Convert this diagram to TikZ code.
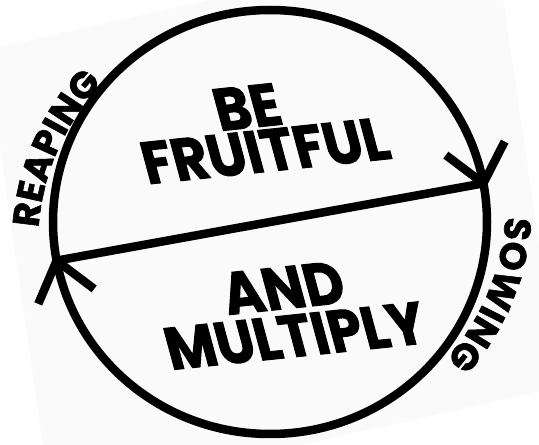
\documentclass[tikz,border=0pt]{standalone}
\usepackage{fontspec}
\setmainfont{Poppins}[BoldFeatures={FakeBold=1.6}]
\usetikzlibrary{calc,decorations.text}

\tikzset{
  ring/.style={line width=8.5pt},
  barb/.style={line width=8.5pt},
  motto/.style={font=\bfseries\fontsize{60}{60}\selectfont, inner sep=0pt,
    rotate=6, xslant=-0.16, xscale=0.91},
  arclabel/.style={decorate, decoration={text along path, text align=fit to path,
    text={|\bfseries\fontsize{37}{37}\selectfont|#1}}},
}

\begin{document}
\begin{tikzpicture}[x=1pt, y=1pt]
\useasboundingbox (0,0) rectangle (539,445);
% faint tilted sheet
\fill[black!2] (-14,395) -- (494,509) -- (560,58) -- (51,-56) -- cycle;

\coordinate (C) at (270,223);
\coordinate (L) at ($(C)+(190.5:217 and 212)$);
\coordinate (R) at ($(C)+(10.5:217 and 212)$);

\draw[ring] (C) ellipse[x radius=217, y radius=212];
\draw[ring] (L) -- (R);
\draw[barb] (R) ++(143:47) -- (R) -- ++(63:47);
\draw[barb] (L) ++(247:47) -- (L) -- ++(323:47);

\node[motto] (be) at (247,338) {BE};
\node[motto] (fruitful) at (265,294) {FRUITFUL};
\node[motto] (and) at (283,157) {AND};
\node[motto] (multiply) at (295,109) {MULTIPLY};

% words round the rim
\path[arclabel=REAPING] ($(270,201)+(176:232)$) arc[start angle=176, end angle=138, radius=232];
\path[arclabel=SOWING] ($(270,243)+(-3.5:236)$) arc[start angle=-3.5, end angle=-41.5, radius=236];
\end{tikzpicture}
\end{document}
